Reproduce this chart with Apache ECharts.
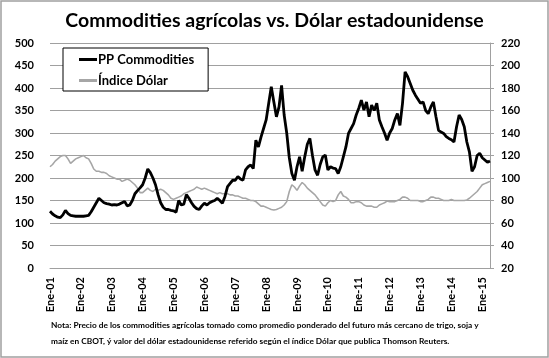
<!DOCTYPE html>
<html>
<head>
<meta charset="utf-8">
<script src="https://cdn.jsdelivr.net/npm/echarts@6/dist/echarts.min.js"></script>
<style>
html,body{margin:0;padding:0;background:#fff;}
#chart{width:549px;height:358px;}
</style>
</head>
<body>
<div id="chart"></div>
<script>
// ---- Data ----
const monthNames = ['Ene','Feb','Mar','Abr','May','Jun','Jul','Ago','Sep','Oct','Nov','Dic'];
const years = ['01','02','03','04','05','06','07','08','09','10','11','12','13','14','15'];
const lastYearMonths = 4; // data through Abr-15

// Precio promedio ponderado commodities agrícolas (eje izquierdo), mensual
const ppCommodities = [
  126,120,116,113,112,118,128,121,117,116,115,115, // 2001
  115,115,116,117,125,135,145,155,150,145,143,142, // 2002
  140,141,140,142,145,148,138,140,150,165,172,178, // 2003
  185,200,220,212,200,185,163,145,135,130,130,128, // 2004
  127,124,150,140,142,163,155,145,137,132,130,138, // 2005
  144,140,145,148,150,155,150,144,159,181,188,195, // 2006
  195,203,198,195,218,225,229,221,284,269,291,310, // 2007
  329,366,403,369,336,358,406,340,300,245,210,195, // 2008
  225,247,215,247,275,288,250,218,206,230,247,251, // 2009
  218,225,222,221,210,225,247,269,299,310,321,340, // 2010
  355,373,351,369,336,362,350,366,329,314,300,284, // 2011
  300,310,329,343,317,366,436,425,410,395,384,375, // 2012
  366,369,350,343,358,369,336,306,302,299,292,288, // 2013
  285,280,314,340,330,314,280,258,215,225,250,255, // 2014
  245,240,235,238                                  // 2015
];

// Índice Dólar (eje derecho), mensual
const indiceDolar = [
  110,112,115,117,119,120,120,117,113,115,117,118, // 2001
  119,120,118,117,113,108,106,106,105,105,104,102, // 2002
  101,100,99,99,97,98,99,98,96,94,91,87,           // 2003
  87,89,91,89,88,90,89,90,89,87,85,82,             // 2004
  81,82,83,84,86,87,88,89,90,92,91,90,             // 2005
  91,90,89,88,87,86,87,86,86,86,85,85,             // 2006
  84,84,83,82,82,81,80,80,79,77,75,75,             // 2007
  74,73,72,71.5,72,73,74,76,79,88,94,92,           // 2008
  89,93,96,94,91,89,87,85,82,79,76,75,             // 2009
  78,80,79,80,85,88,84,83,81,78,78,79,             // 2010
  79,78,76,75,75,75,74,74,76,77,78,79.5,           // 2011
  79,79,79,80,81,83,83,82,80,80,80,80,             // 2012
  79,79,80,81,83,83,82,82,81,80,80,80,             // 2013
  81,80,80,80,80,80,80.5,82,84,86,88,91,           // 2014
  94,95,96,97                                      // 2015
];

const leftTicks = {min: 0, max: 500, interval: 50};
const rightTicks = {min: 20, max: 220, interval: 20};

const titleText = 'Commodities agrícolas vs. Dólar estadounidense';
const noteLines = [
  'Nota: Precio de los commodities agrícolas tomado como promedio ponderado del futuro más cercano de trigo, soja y',
  'maíz en CBOT, ý valor del dólar estadounidense referido según el índice Dólar que publica Thomson Reuters.'
];

// build categories
const categories = [];
years.forEach((y, i) => {
  const n = (i === years.length - 1) ? lastYearMonths : 12;
  for (let m = 0; m < n; m++) categories.push(monthNames[m] + '-' + y);
});

const chart = echarts.init(document.getElementById('chart'), null, {renderer: 'canvas'});
const labelFont = {color: '#000', fontWeight: 'bold', fontSize: 11, fontFamily: 'Lato'};

chart.setOption({
  animation: false,
  backgroundColor: '#fff',
  title: {
    text: titleText,
    left: 'center',
    top: 6,
    textStyle: {fontSize: 19.5, fontWeight: 'bold', color: '#000', fontFamily: 'Lato'}
  },
  legend: {
    orient: 'vertical',
    left: 63,
    top: 48,
    backgroundColor: '#fff',
    borderColor: '#000',
    borderWidth: 1,
    padding: [5, 14, 4, 16],
    itemGap: 8,
    itemWidth: 18,
    itemHeight: 3,
    icon: 'rect',
    textStyle: {fontSize: 13, fontWeight: 'bold', color: '#000', fontFamily: 'Lato', padding: [0, 0, 0, -4]},
    data: ['PP Commodities', 'Índice Dólar']
  },
  grid: {left: 50, right: 59, top: 43, bottom: 90, containLabel: false},
  xAxis: {
    type: 'category',
    data: categories,
    boundaryGap: false,
    axisLine: {show: true, lineStyle: {color: '#a0a0a0', width: 1}},
    axisTick: {show: false},
    axisLabel: Object.assign({rotate: 90, interval: 11, margin: 9}, labelFont),
    splitLine: {show: false}
  },
  yAxis: [
    {
      type: 'value',
      min: leftTicks.min, max: leftTicks.max, interval: leftTicks.interval,
      position: 'left',
      axisLine: {show: false},
      axisTick: {show: false},
      axisLabel: Object.assign({margin: 16}, labelFont),
      splitLine: {show: true, lineStyle: {color: '#a0a0a0', width: 1}}
    },
    {
      type: 'value',
      min: rightTicks.min, max: rightTicks.max, interval: rightTicks.interval,
      position: 'right',
      axisLine: {show: true, lineStyle: {color: '#a0a0a0', width: 1}},
      axisTick: {show: true, inside: false, length: 4, lineStyle: {color: '#a0a0a0'}},
      axisLabel: Object.assign({margin: 11}, labelFont),
      splitLine: {show: false}
    }
  ],
  series: [
    {
      name: 'Índice Dólar',
      type: 'line',
      yAxisIndex: 1,
      data: indiceDolar,
      symbol: 'none',
      lineStyle: {color: '#a6a6a6', width: 1.6},
      itemStyle: {color: '#a6a6a6'},
      z: 2
    },
    {
      name: 'PP Commodities',
      type: 'line',
      yAxisIndex: 0,
      data: ppCommodities,
      symbol: 'none',
      lineStyle: {color: '#000', width: 2.8},
      itemStyle: {color: '#000'},
      z: 3
    }
  ],
  graphic: [
    {
      type: 'rect',
      shape: {x: 1, y: 1, width: 547, height: 356},
      style: {fill: 'none', stroke: '#a0a0a0', lineWidth: 1.5},
      silent: true, z: -1
    },
    {
      type: 'text',
      left: 51, top: 321,
      style: {text: noteLines[0], fill: '#000', fontSize: 8.3, fontWeight: 'bold', fontFamily: 'Lato'}
    },
    {
      type: 'text',
      left: 51, top: 337,
      style: {text: noteLines[1], fill: '#000', fontSize: 8.3, fontWeight: 'bold', fontFamily: 'Lato'}
    }
  ]
});
</script>
</body>
</html>
